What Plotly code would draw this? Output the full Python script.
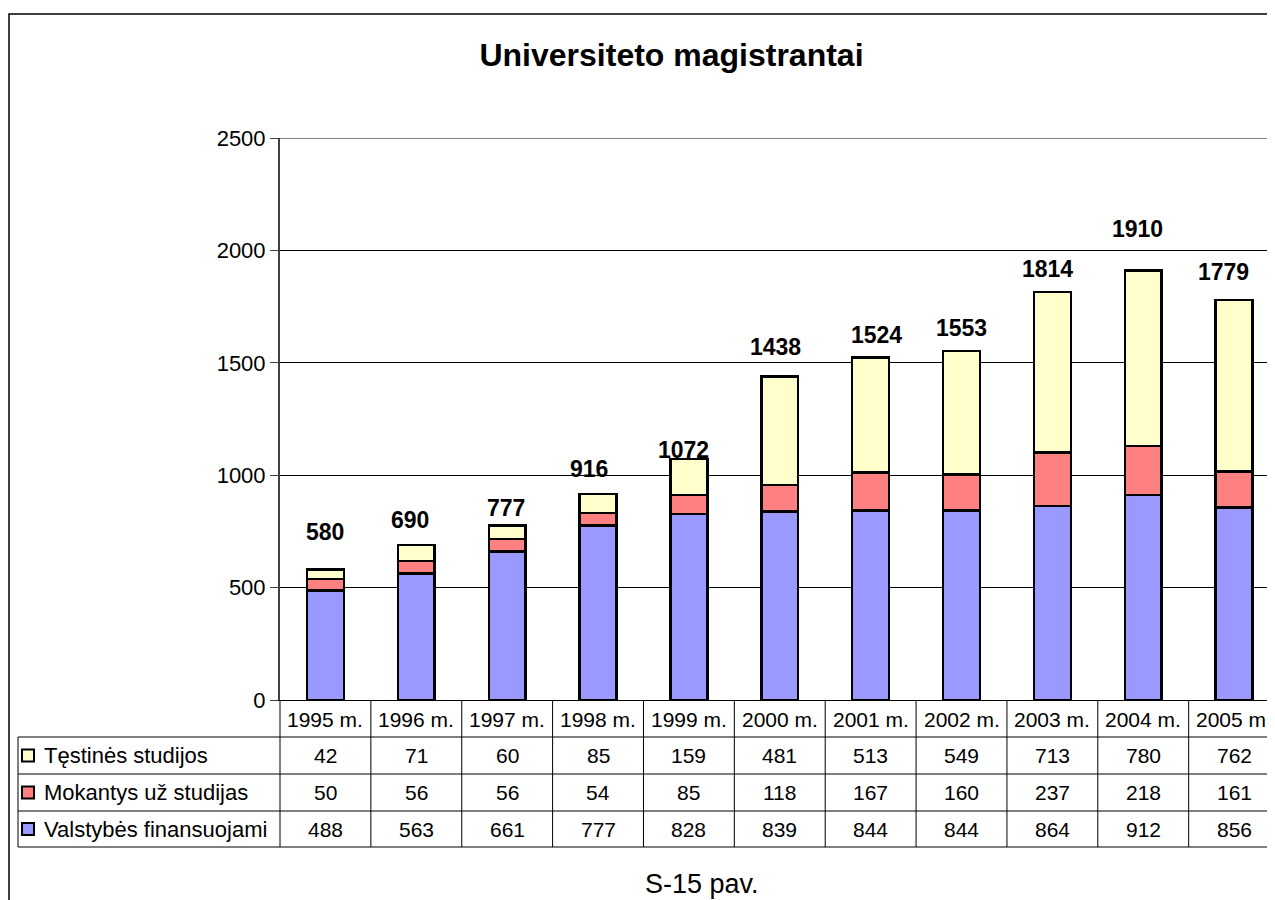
import plotly.graph_objects as go

years = ["1995 m.", "1996 m.", "1997 m.", "1998 m.", "1999 m.", "2000 m.",
         "2001 m.", "2002 m.", "2003 m.", "2004 m.", "2005 m."]
testines = [42, 71, 60, 85, 159, 481, 513, 549, 713, 780, 762]
mokantys = [50, 56, 56, 54, 85, 118, 167, 160, 237, 218, 161]
valstybes = [488, 563, 661, 777, 828, 839, 844, 844, 864, 912, 856]
totals = [a + b + c for a, b, c in zip(testines, mokantys, valstybes)]

# manual nudges of the total labels (pixels), as placed in the original
label_dx = [0, -6, -1, -9, -5, -4, 6, 0, -5, -6, -11]
label_dy = [38, 25, 17, 25, 9, 30, 22, 23, 23, 42, 28]

BLUE = "#9999FF"
RED = "#FF8080"
YELLOW = "#FFFFCC"
FONT = "Liberation Sans, Arial, sans-serif"

# page has an 8px body margin, so the figure is a bit smaller than the window
PAGE_OFF = 8
W, H = 1275 - PAGE_OFF, 900 - PAGE_OFF
L, T, B = 272, 130, 200


def px_x(p):
    # page pixel -> paper x
    return (p - PAGE_OFF - L) / (W - L)


def px_y(p):
    # page pixel -> paper y
    return (H - B - (p - PAGE_OFF)) / (H - T - B)


fig = go.Figure()
for name, vals, color in [("Valstybės finansuojami", valstybes, BLUE),
                          ("Mokantys už studijas", mokantys, RED),
                          ("Tęstinės studijos", testines, YELLOW)]:
    fig.add_trace(go.Bar(
        x=years, y=vals, name=name,
        marker=dict(color=color, line=dict(color="black", width=2.5)),
        showlegend=False, hoverinfo="skip",
    ))

shapes = []
annotations = []

# total labels above bars
for i, tot in enumerate(totals):
    annotations.append(dict(
        x=years[i], y=tot, xref="x", yref="y", text=f"<b>{tot}</b>",
        showarrow=False, yanchor="middle", xshift=label_dx[i], yshift=label_dy[i],
        font=dict(family=FONT, size=23, color="black"),
    ))

# data table under the chart
row_lines = [737, 774, 811, 847]
rows = [("Tęstinės studijos", testines, YELLOW),
        ("Mokantys už studijas", mokantys, RED),
        ("Valstybės finansuojami", valstybes, BLUE)]

for i, yr in enumerate(years):
    annotations.append(dict(
        x=yr, y=px_y(719), xref="x", yref="paper", text=yr, showarrow=False,
        yanchor="middle", font=dict(family=FONT, size=21, color="black"),
    ))
for r, (label, vals, color) in enumerate(rows):
    yc = (row_lines[r] + row_lines[r + 1]) / 2
    annotations.append(dict(
        x=px_x(42), y=px_y(yc), xref="paper", yref="paper", text=label,
        showarrow=False, xanchor="left", yanchor="middle",
        font=dict(family=FONT, size=22, color="black"),
    ))
    shapes.append(dict(
        type="rect", xref="paper", yref="paper",
        x0=px_x(22), x1=px_x(34), y0=px_y(yc - 6), y1=px_y(yc + 6),
        fillcolor=color, line=dict(color="black", width=2),
    ))
    for i, v in enumerate(vals):
        annotations.append(dict(
            x=years[i], y=px_y(yc), xref="x", yref="paper", text=str(v),
            showarrow=False, yanchor="middle",
            font=dict(family=FONT, size=21, color="black"),
        ))

for yl in row_lines:
    shapes.append(dict(type="line", xref="paper", yref="paper",
                       x0=px_x(18), x1=px_x(1290), y0=px_y(yl), y1=px_y(yl),
                       line=dict(color="black", width=1)))
shapes.append(dict(type="line", xref="paper", yref="paper",
                   x0=px_x(18), x1=px_x(18), y0=px_y(737), y1=px_y(847),
                   line=dict(color="black", width=1)))
shapes.append(dict(type="line", xref="paper", yref="paper",
                   x0=0, x1=0, y0=px_y(700), y1=px_y(847),
                   line=dict(color="black", width=1)))
for i in range(len(years) - 1):
    shapes.append(dict(type="line", xref="x", yref="paper",
                       x0=i + 0.5, x1=i + 0.5, y0=px_y(700), y1=px_y(847),
                       line=dict(color="black", width=1)))

# top border of plot area
shapes.append(dict(type="line", xref="paper", yref="y", x0=0, x1=1.02,
                   y0=2500, y1=2500, line=dict(color="#808080", width=2)))

# outer chart frame
shapes.append(dict(type="rect", xref="paper", yref="paper",
                   x0=px_x(9), x1=px_x(1300), y0=px_y(920), y1=px_y(14),
                   line=dict(color="black", width=1.5), layer="below"))

annotations.append(dict(
    x=px_x(702), y=px_y(884), xref="paper", yref="paper", text="S-15 pav.",
    showarrow=False, yanchor="middle",
    font=dict(family=FONT, size=27, color="black"),
))

fig.update_layout(
    width=W, height=H,
    margin=dict(l=L, r=0, t=T, b=B, pad=0),
    paper_bgcolor="white", plot_bgcolor="white",
    barmode="stack", bargap=0.595,
    title=dict(text="<b>Universiteto magistrantai</b>",
               x=(671.5 - PAGE_OFF) / W, xanchor="center",
               y=1 - (55 - PAGE_OFF) / H, yanchor="middle",
               font=dict(family=FONT, size=32, color="black")),
    font=dict(family=FONT, size=22, color="black"),
    xaxis=dict(type="category", range=[-0.5, 10.45], showticklabels=False,
               showgrid=False, showline=True, linecolor="black", linewidth=1,
               ticks="", zeroline=False),
    yaxis=dict(range=[0, 2500], dtick=500, showgrid=True, gridcolor="black",
               gridwidth=1, showline=True, linecolor="#404040", linewidth=2,
               ticks="outside", ticklen=8, tickcolor="#404040", tickwidth=1,
               zeroline=False, tickfont=dict(family=FONT, size=22, color="black")),
    shapes=shapes,
    annotations=annotations,
)

fig.write_html("out.html")
